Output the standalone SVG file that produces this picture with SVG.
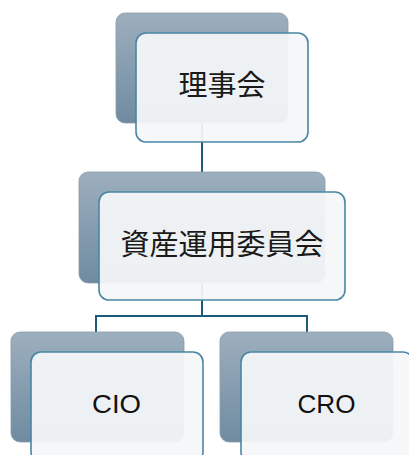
<svg xmlns="http://www.w3.org/2000/svg" width="409" height="455" viewBox="0 0 409 455">
<defs>
<linearGradient id="bg" x1="0" y1="0" x2="0" y2="1">
<stop offset="0" stop-color="#9dafbe"/>
<stop offset="1" stop-color="#6f8ba1"/>
</linearGradient>
<style>
.back{fill:url(#bg);stroke:#8a9aa8;stroke-width:0.8}
.front{fill:#f4f6f8;fill-opacity:0.94;stroke:#4a86a3;stroke-width:1.6}
.conn{fill:none;stroke:#1d5c78;stroke-width:2}
.jp{font-family:"Noto Sans CJK JP","Noto Sans CJK SC",sans-serif;font-size:29px;fill:#1a1a1a;text-anchor:middle}
.en{font-family:"Liberation Sans",Arial,sans-serif;font-size:25px;fill:#111;text-anchor:middle}
</style>
</defs>
<rect width="409" height="455" fill="#ffffff"/>
<g id="connectors">
<line class="conn" x1="202" y1="123" x2="202" y2="172"/>
<path class="conn" d="M202 283 V316 M96 332 V316 H307 V332"/>
</g>
<g id="node-rijikai">
<rect class="back" x="116" y="13" width="172" height="110" rx="9"/>
<rect class="front" x="136" y="33" width="172" height="109" rx="10"/>
<text class="jp" x="222" y="96">理事会</text>
</g>
<g id="node-shisan">
<rect class="back" x="79" y="172" width="246" height="111" rx="9"/>
<rect class="front" x="99" y="192" width="246" height="108" rx="10"/>
<text class="jp" x="222" y="255">資産運用委員会</text>
</g>
<g id="node-cio">
<rect class="back" x="11" y="332" width="173" height="110" rx="9"/>
<rect class="front" x="31" y="352" width="172" height="110" rx="10"/>
<text class="en" x="116.5" y="413" textLength="49" lengthAdjust="spacingAndGlyphs">CIO</text>
</g>
<g id="node-cro">
<rect class="back" x="220" y="332" width="173" height="110" rx="9"/>
<rect class="front" x="241" y="352" width="172" height="110" rx="10"/>
<text class="en" x="326.5" y="413" textLength="58" lengthAdjust="spacingAndGlyphs">CRO</text>
</g>
</svg>
